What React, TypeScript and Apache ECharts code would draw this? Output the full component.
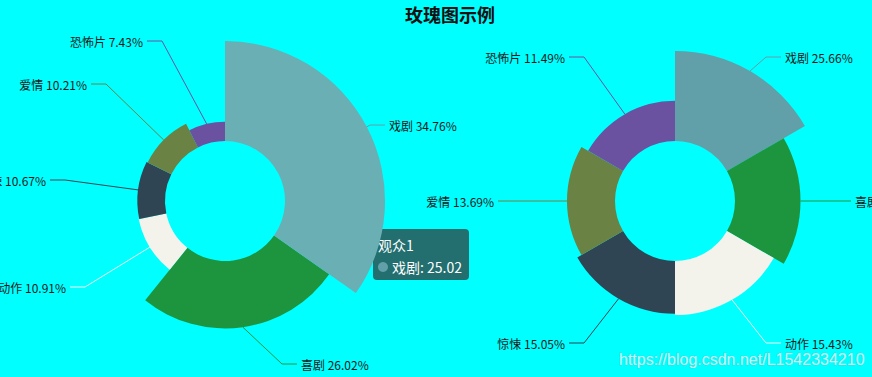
import React, { useEffect, useRef } from "react";
import * as echarts from "echarts";

const titleText = "玫瑰图示例";
const categories = ["戏剧", "喜剧", "动作", "惊悚", "爱情", "恐怖片"];
const audience1 = [25.02, 18.73, 7.85, 7.68, 7.35, 5.35];
const audience2 = [25.66, 18.68, 15.43, 15.05, 13.69, 11.49];
const seriesNames = ["观众1", "观众2"];
const palette = ["#61a0a8", "#1d953f", "#f3f3ec", "#2f4554", "#6b8245", "#6a52a1"];
const watermark = "https://blog.csdn.net/L1542334210";

// label line end offsets relative to each pie centre (layout only)
const leftLabelEnds = [[160, -76], [72, 163], [-155, 86], [-175, -21], [-134, -117], [-78, -160]];
const rightLabelEnds = [[106, -144], [176, 0], [106, 142], [-106, 142], [-177, 0], [-106, -144]];

const leftCenter = [225, 201];
const rightCenter = [675, 201];

function makeLayout(center: number[], ends: number[][]) {
  return (p: any) => {
    const e = ends[p.dataIndex];
    const ex = center[0] + e[0];
    const ey = center[1] + e[1];
    const side = e[0] >= 0 ? 1 : -1;
    const p0 = p.labelLinePoints && p.labelLinePoints[0] ? p.labelLinePoints[0] : [ex - side * 15, ey];
    return {
      x: ex + side * 4,
      y: ey,
      align: side > 0 ? "left" : "right",
      verticalAlign: "middle",
      width: 200,
      labelLinePoints: [p0, [ex - side * 15, ey], [ex, ey]],
    };
  };
}

export default function App() {
  const ref = useRef<HTMLDivElement>(null);
  useEffect(() => {
    const chart = echarts.init(ref.current!, undefined, { renderer: "svg" });
    const labelCommon = {
      formatter: "{b} {d}%",
      color: "#1a1a1a",
      fontSize: 12,
      fontFamily: "Noto Sans CJK SC",
      overflow: "none",
      width: 200,
    };
    chart.setOption({
      animation: false,
      backgroundColor: "#00ffff",
      color: palette,
      title: {
        text: titleText,
        left: 400,
        top: 0,
        textStyle: { fontSize: 18, fontWeight: "bold", color: "#111", fontFamily: "Noto Sans CJK SC" },
      },
      series: [
        {
          type: "pie",
          name: seriesNames[0],
          roseType: "radius",
          center: leftCenter,
          radius: [60, 150],
          startAngle: 90,
          edgeDistance: 0,
          bleedMargin: 0,
          data: categories.map((n, i) =>
            i === 0
              ? { name: n, value: audience1[i], emphasis: { itemStyle: { color: "#6aafb4" } } }
              : { name: n, value: audience1[i] }
          ),
          label: labelCommon,
          labelLine: { show: true, lineStyle: { width: 1 } },
          labelLayout: makeLayout(leftCenter, leftLabelEnds),
          emphasis: { scale: true, scaleSize: 10, focus: "none" },
        },
        {
          type: "pie",
          name: seriesNames[1],
          roseType: "area",
          center: rightCenter,
          radius: [60, 150],
          startAngle: 90,
          edgeDistance: 0,
          bleedMargin: 0,
          data: categories.map((n, i) => ({ name: n, value: audience2[i] })),
          label: labelCommon,
          labelLine: { show: true, lineStyle: { width: 1 } },
          labelLayout: makeLayout(rightCenter, rightLabelEnds),
        },
      ],
      graphic: [
        {
          type: "text",
          x: 619,
          y: 359,
          z: 50,
          style: {
            text: watermark,
            fill: "rgba(235,255,255,0.8)",
            stroke: "rgba(120,170,170,0.35)",
            lineWidth: 1,
            font: "16px 'Liberation Sans', Arial, sans-serif",
            verticalAlign: "middle",
          },
        },
        {
          type: "group",
          x: 373,
          y: 229,
          z: 100,
          children: [
            {
              type: "rect",
              shape: { x: 0, y: 0, width: 96, height: 51, r: 4 },
              style: { fill: "rgba(50,50,50,0.7)" },
            },
            {
              type: "text",
              x: 5,
              y: 16,
              style: {
                text: seriesNames[0],
                fill: "#fff",
                font: "14px 'Noto Sans CJK SC', sans-serif",
                verticalAlign: "middle",
              },
            },
            {
              type: "circle",
              shape: { cx: 10, cy: 38, r: 5 },
              style: { fill: palette[0] },
            },
            {
              type: "text",
              x: 19,
              y: 38,
              style: {
                text: categories[0] + ": " + audience1[0].toFixed(2),
                fill: "#fff",
                font: "14px 'Noto Sans CJK SC', sans-serif",
                verticalAlign: "middle",
              },
            },
          ],
        },
      ],
    });
    chart.dispatchAction({ type: "highlight", seriesIndex: 0, dataIndex: 0 });
    return () => chart.dispose();
  }, []);
  return <div ref={ref} style={{ width: 872, height: 377, position: "absolute", left: 0, top: 0 }} />;
}
